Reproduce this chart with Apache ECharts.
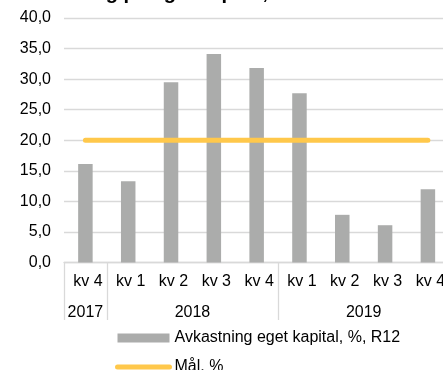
<!DOCTYPE html>
<html>
<head>
<meta charset="utf-8">
<script src="https://cdn.jsdelivr.net/npm/echarts@6/dist/echarts.min.js"></script>
<style>
  html, body { margin: 0; padding: 0; background: #fff; }
  #chart { width: 443px; height: 370px; }
</style>
</head>
<body>
<div id="chart"></div>
<script>
// Quarter labels (inner category row) and year groups (outer row)
const quarters = ['kv 4', 'kv 1', 'kv 2', 'kv 3', 'kv 4', 'kv 1', 'kv 2', 'kv 3', 'kv 4'];
const years = ['2017', '2018', '2019'];
const quartersPerYear = [1, 4, 4];

// Return on equity, rolling 12 months (%)
const roe = [16.1, 13.3, 29.5, 34.1, 31.8, 27.7, 7.8, 6.1, 12.0];
// Target level (%)
const target = [20, 20, 20, 20, 20, 20, 20, 20, 20];

// Value axis ticks
const yMin = 0, yMax = 40, yStep = 5;

const FONT = '"Liberation Sans", Arial, sans-serif';
const GRID_COLOR = '#D9D9D9';
const GOLD = '#FFC84B';

// Group boundaries (first quarter index of each year) and the
// centre position of each year group in category units.
const groupStarts = [];
const groupCentres = [];
let start = 0;
quartersPerYear.forEach((n) => {
  groupStarts.push(start);
  groupCentres.push(start + (n - 1) / 2);
  start += n;
});

function yearAt(v) {
  const k = groupCentres.findIndex((c) => Math.abs(c - v) < 1e-6);
  return k >= 0 ? years[k] : '';
}

const chart = echarts.init(document.getElementById('chart'), null, { renderer: 'canvas' });

chart.setOption({
  animation: false,
  backgroundColor: '#fff',
  textStyle: { fontFamily: FONT },
  title: {
    text: 'Avkastning på eget kapital, %',
    left: 11,
    top: -17,
    padding: 0,
    textStyle: { fontFamily: FONT, fontSize: 20, fontWeight: 'bold', color: '#000' }
  },
  // plot area runs slightly past the right edge of the canvas
  grid: {
    left: 64, width: 385.3, top: 18, height: 244.5,
    containLabel: false, outerBoundsMode: 'none'
  },
  xAxis: [
    {
      // quarter row
      type: 'category',
      data: quarters,
      position: 'bottom',
      axisLine: { show: true, lineStyle: { color: GRID_COLOR, width: 1.3 } },
      axisTick: { show: false },
      axisLabel: {
        interval: 0, margin: 11, fontSize: 16, color: '#000',
        fontFamily: FONT, padding: [0, 0, 0, 5]
      }
    },
    {
      // year group separators
      type: 'category',
      data: quarters,
      position: 'bottom',
      axisLine: { show: false },
      axisTick: {
        show: true,
        length: 57.5,
        interval: (i) => groupStarts.includes(i),
        lineStyle: { color: GRID_COLOR, width: 1.3 }
      },
      axisLabel: { show: false }
    },
    {
      // year labels, centred on their groups
      type: 'value',
      min: -0.5,
      max: quarters.length - 0.5,
      interval: 0.5,
      position: 'bottom',
      axisLine: { show: false },
      axisTick: { show: false },
      splitLine: { show: false },
      axisLabel: {
        margin: 42, fontSize: 16, color: '#000', fontFamily: FONT,
        showMinLabel: true, showMaxLabel: true,
        formatter: yearAt
      }
    }
  ],
  yAxis: {
    type: 'value',
    min: yMin, max: yMax, interval: yStep,
    axisLine: { show: false },
    axisTick: { show: false },
    splitLine: { show: true, lineStyle: { color: GRID_COLOR, width: 1.3 } },
    axisLabel: {
      margin: 13, fontSize: 16, color: '#000', fontFamily: FONT,
      padding: [4, 0, 0, 0],
      formatter: (v) => v.toFixed(1).replace('.', ',')
    }
  },
  legend: {
    orient: 'vertical',
    left: 115,
    top: 330,
    height: 80,
    padding: 0,
    itemGap: 13,
    itemWidth: 52,
    itemHeight: 9,
    textStyle: { fontSize: 16, color: '#000', fontFamily: FONT },
    data: [
      { name: 'Avkastning eget kapital, %, R12', icon: 'rect' },
      {
        name: 'Mål, %',
        itemStyle: { opacity: 0 },
        lineStyle: { color: GOLD, width: 5, cap: 'round' }
      }
    ]
  },
  series: [
    {
      name: 'Avkastning eget kapital, %, R12',
      type: 'bar',
      data: roe,
      barWidth: 14.5,
      itemStyle: { color: '#ABACAB' },
      z: 2
    },
    {
      name: 'Mål, %',
      type: 'line',
      data: target,
      symbol: 'none',
      showSymbol: false,
      lineStyle: { color: GOLD, width: 5, cap: 'round' },
      itemStyle: { color: GOLD },
      z: 3
    }
  ]
});
</script>
</body>
</html>
